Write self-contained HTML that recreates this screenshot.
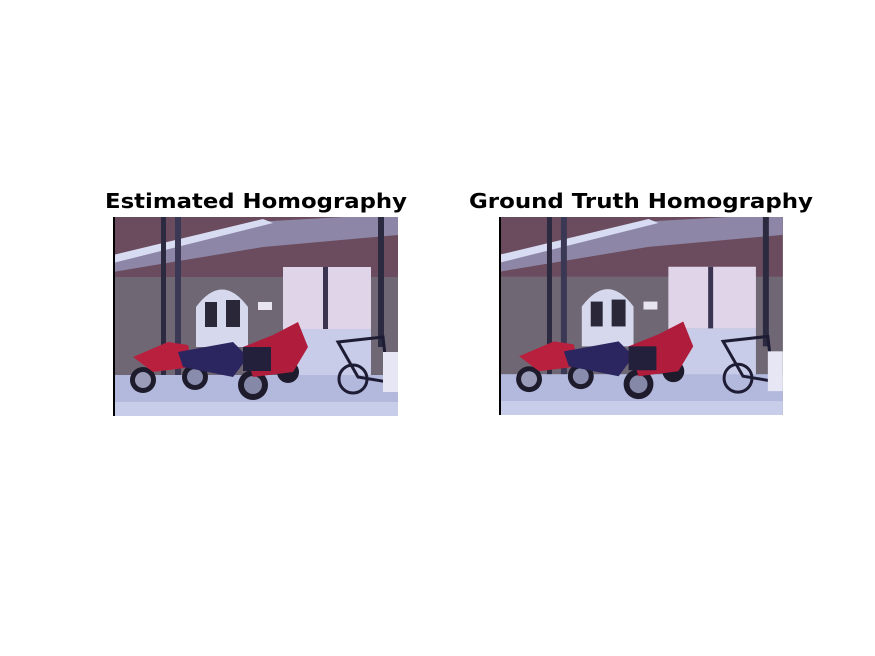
<!DOCTYPE html>
<html><head><meta charset="utf-8"><style>
html,body{margin:0;padding:0;background:#fff;width:875px;height:656px;overflow:hidden}
svg{display:block}
text{font-family:"DejaVu Sans","Liberation Sans",sans-serif;font-weight:bold;fill:#000}
</style></head><body>
<svg width="875" height="656" viewBox="0 0 875 656">
<defs>
<symbol id="scene" viewBox="0 0 285 199">
  <rect x="0" y="0" width="285" height="199" fill="#6e6472"/>
  <rect x="0" y="0" width="285" height="60" fill="#6b4c5e"/>
  <rect x="0" y="60" width="285" height="100" fill="#6f6874"/>
  <polygon points="0,40 140,5 230,0 285,0 285,18 150,30 0,55" fill="#8d86a6"/>
  <polygon points="0,38 150,2 160,6 0,46" fill="#d8dcf2"/>
  <rect x="48" y="0" width="5" height="160" fill="#2c2a40"/>
  <rect x="62" y="0" width="6" height="165" fill="#3a3854"/>
  <rect x="265" y="0" width="6" height="130" fill="#2c2a40"/>
  <path d="M83,130 L83,90 Q109,55 135,90 L135,130 Z" fill="#d6d8ee"/>
  <rect x="92" y="85" width="12" height="25" fill="#2a2838"/>
  <rect x="113" y="83" width="14" height="27" fill="#2a2838"/>
  <rect x="170" y="50" width="88" height="62" fill="#e0d4e8"/>
  <rect x="210" y="50" width="5" height="62" fill="#3a3450"/>
  <rect x="170" y="112" width="88" height="48" fill="#c9cce8"/>
  <rect x="145" y="85" width="14" height="8" fill="#e8e4f0"/>
  <rect x="0" y="158" width="285" height="41" fill="#b3b9dd"/>
  <rect x="0" y="185" width="285" height="14" fill="#c8cdea"/>
  <circle cx="30" cy="163" r="13" fill="#1e1c2c"/><circle cx="30" cy="163" r="8" fill="#9a9cb8"/>
  <path d="M20,140 L55,125 L75,128 L80,150 L40,155 Z" fill="#b8203e"/>
  <circle cx="82" cy="160" r="13" fill="#1e1c2c"/><circle cx="82" cy="160" r="8" fill="#8a8cae"/>
  <path d="M65,135 L120,125 L135,140 L120,160 L70,150 Z" fill="#2c2660"/>
  <circle cx="140" cy="168" r="15" fill="#1e1c2c"/><circle cx="140" cy="168" r="9" fill="#8688a8"/>
  <circle cx="175" cy="155" r="11" fill="#1e1c2c"/>
  <path d="M130,130 L160,118 L185,105 L195,130 L180,155 L140,160 Z" fill="#b01c3c"/>
  <rect x="130" y="130" width="28" height="24" fill="#22203a"/>
  <circle cx="240" cy="162" r="14" fill="none" stroke="#1e1c34" stroke-width="3"/>
  <path d="M225,125 L270,120 L275,165 L245,160 Z" fill="none" stroke="#1e1c34" stroke-width="3"/>
  <rect x="270" y="135" width="15" height="40" fill="#e6e6f4"/>
</symbol>
</defs>
<g>
  <text x="256" y="208" font-size="20" text-anchor="middle" textLength="302" lengthAdjust="spacingAndGlyphs">Estimated Homography</text>
  <use href="#scene" x="113" y="217" width="285" height="199"/>
  <rect x="113" y="217" width="2" height="199" fill="#000"/>
</g>
<g>
  <text x="641" y="208" font-size="20" text-anchor="middle" textLength="344" lengthAdjust="spacingAndGlyphs">Ground Truth Homography</text>
  <use href="#scene" x="499" y="217" width="284" height="198"/>
  <rect x="499" y="217" width="2" height="198" fill="#000"/>
</g>
</svg>
</body></html>
